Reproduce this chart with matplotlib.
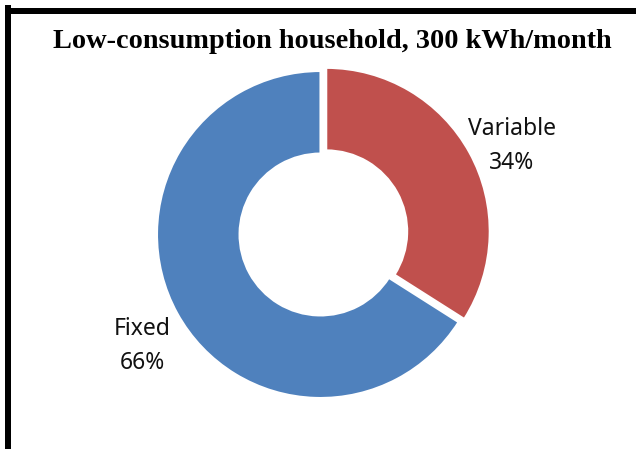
import matplotlib
matplotlib.use("Agg")
import matplotlib.pyplot as plt
from matplotlib.lines import Line2D

# data
labels = ['Variable', 'Fixed']
shares = [34, 66]
colors = ['#C0504D', '#4F81BD']
title = 'Low-consumption household, 300 kWh/month'

W, H = 636, 449
fig = plt.figure(figsize=(W / 100, H / 100), dpi=100)
fig.patch.set_facecolor('white')

# pie centre and radius in pixels
cx, cy, R = 320.5, 234.5, 163.5
half = 200
ax = fig.add_axes([(cx - half) / W, 1 - (cy + half) / H, 2 * half / W, 2 * half / H])

wedges, _ = ax.pie(shares, colors=colors, startangle=90, counterclock=False,
                   explode=[0.04, 0], radius=1,
                   wedgeprops=dict(width=0.505, edgecolor='white', linewidth=1.5))
lim = half / R
ax.set_xlim(-lim, lim)
ax.set_ylim(-lim, lim)
ax.set_aspect('equal')
ax.axis('off')

# data labels
lab_font = dict(family=['Noto Sans', 'DejaVu Sans'], fontsize=16.5, ha='center', va='center',
                color='#111111', linespacing=1.55)
ax.text((512 - cx) / R, (cy - 146) / R, f'{labels[0]}\n{shares[0]}%', **lab_font)
ax.text((142.5 - cx) / R, (cy - 346) / R, f'{labels[1]}\n{shares[1]}%', **lab_font)

fig.text(332 / W, 1 - 42 / H, title, ha='center', va='center',
         family=['Liberation Serif'], fontweight='bold', fontsize=20.3, color='black')

# chart frame (left and top edges visible)
lw = 6 * 72 / 100
fig.add_artist(Line2D([8 / W, 8 / W], [0, 1 - 8 / H], color='black', lw=lw,
                      solid_capstyle='projecting'))
fig.add_artist(Line2D([8 / W, 1], [1 - 11 / H, 1 - 11 / H], color='black', lw=lw,
                      solid_capstyle='butt'))

fig.savefig('out.png', dpi=100, facecolor='white')
